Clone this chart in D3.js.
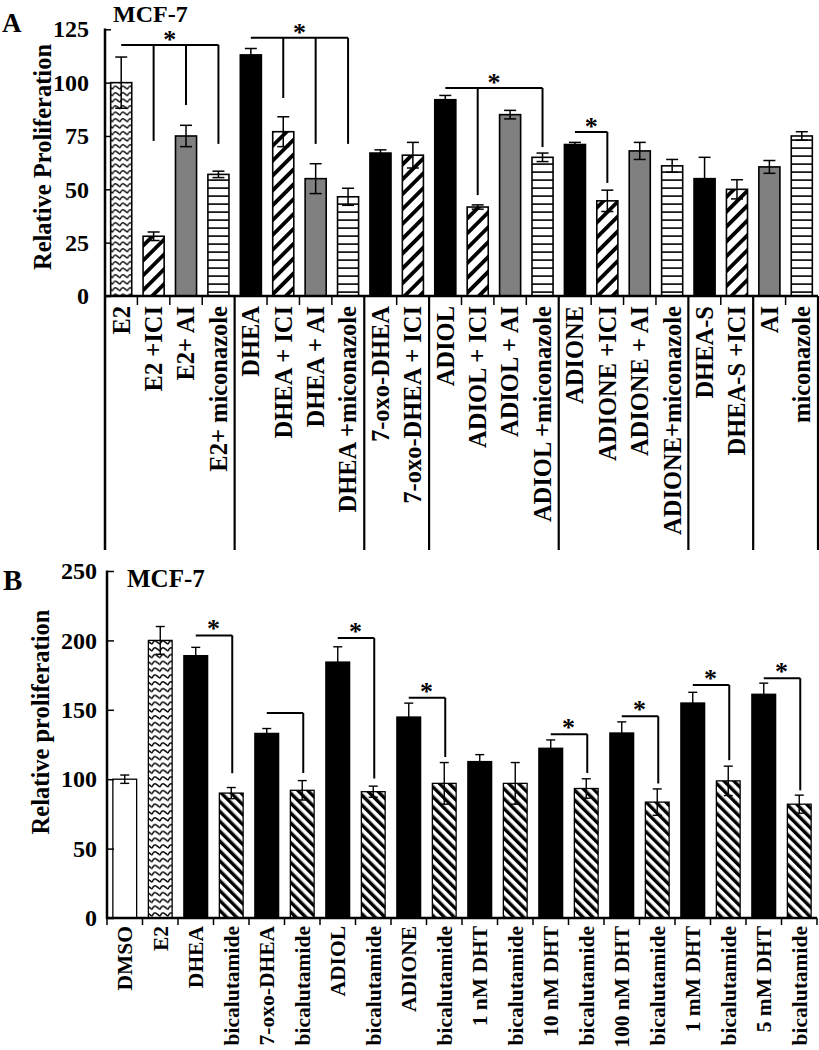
<!DOCTYPE html>
<html><head><meta charset="utf-8">
<script src="https://cdn.jsdelivr.net/npm/d3@7"></script>
<style>
html,body{margin:0;padding:0;background:#fff;}
svg text{font-family:"Liberation Serif","Times New Roman",serif;font-weight:bold;fill:#000;}
</style></head>
<body>
<svg id="chart" width="819" height="1050"></svg>
<script>
// ---------- Panel A data ----------
const catsA = ["E2","E2 +ICI","E2+ AI","E2+ miconazole","DHEA","DHEA + ICI","DHEA + AI","DHEA +miconazole",
  "7-oxo-DHEA","7-oxo-DHEA + ICI","ADIOL","ADIOL + ICI","ADIOL + AI","ADIOL +miconazole",
  "ADIONE","ADIONE +ICI","ADIONE + AI","ADIONE+miconazole","DHEA-S","DHEA-S +ICI","AI","miconazole"];
const valsA = [100,28,75,57,113,77,55,46.5,67,66,92,41.7,85,65,71,44.6,68,61,55,50,60.5,75];
const errA  = [12,2,5,1.5,3,7,7,4,1.5,6,2,1,2,2,1,5,4,3,10,4.5,3,2];
const fillA = ["wave","hatchR","gray","horiz","black","hatchR","gray","horiz","black","hatchR",
  "black","hatchR","gray","horiz","black","hatchR","gray","horiz","black","hatchR","gray","horiz"];
const groupEndsA = [4,8,10,14,18,20,22];
const ticksA = [0,25,50,75,100,125];
// brackets: start bar, target bars, line level, drop levels
const bracketsA = [
  {from:0, to:[1,2,3], level:117.7, drops:[72.7,89.5,71.3]},
  {from:4, to:[5,6,7], level:121, drops:[92.8,71.3,71.3]},
  {from:10, to:[11,13], level:97.5, drops:[47.3,69.8]},
  {from:14, to:[15], level:76.9, drops:[53]}
];

// ---------- Panel B data ----------
const catsB = ["DMSO","E2","DHEA","bicalutamide","7-oxo-DHEA","bicalutamide","ADIOL","bicalutamide",
  "ADIONE","bicalutamide","1 nM DHT","bicalutamide","10 nM DHT","bicalutamide","100 nM DHT","bicalutamide",
  "1 mM DHT","bicalutamide","5 mM DHT","bicalutamide"];
const valsB = [100,200,189,90,133,92,184.4,91,144.8,97,112.7,97,122.3,93.3,133.3,83.5,154.9,98.8,161.2,82];
const errB  = [3,10,6,4,3.5,7,11,4,10,15,5,15,6,7,8,9.5,7.7,10.6,8,6.5];
const fillB = ["white","wave","black","hatchL","black","hatchL","black","hatchL","black","hatchL",
  "black","hatchL","black","hatchL","black","hatchL","black","hatchL","black","hatchL"];
const ticksB = [0,50,100,150,200,250];
const bracketsB = [
  {from:2, to:[3], level:203.6, drops:[104.3], star:true},
  {from:4, to:[5], level:147.7, drops:[104.5], star:false},
  {from:6, to:[7], level:201.7, drops:[100.5], star:true},
  {from:8, to:[9], level:158.7, drops:[116], star:true},
  {from:12, to:[13], level:132.4, drops:[104.5], star:true},
  {from:14, to:[15], level:145.3, drops:[96.9], star:true},
  {from:16, to:[17], level:167.9, drops:[113.7], star:true},
  {from:18, to:[19], level:172.7, drops:[92], star:true}
];

const svg = d3.select("#chart");
const defs = svg.append("defs");

// patterns
function lineHatch(id, angle, size, width){
  const p = defs.append("pattern").attr("id",id).attr("patternUnits","userSpaceOnUse")
    .attr("width",size).attr("height",size).attr("patternTransform",`rotate(${angle})`);
  p.append("rect").attr("width",size).attr("height",size).attr("fill","#fff");
  p.append("rect").attr("x",0).attr("y",0).attr("width",width).attr("height",size).attr("fill","#000");
}
lineHatch("hatchR", 45, 10.5, 3.8);
lineHatch("hatchL", -45, 7, 3.4);
{
  const p = defs.append("pattern").attr("id","horiz").attr("patternUnits","userSpaceOnUse")
    .attr("width",8).attr("height",8);
  p.append("rect").attr("width",8).attr("height",8).attr("fill","#fff");
  p.append("rect").attr("x",0).attr("y",3.3).attr("width",8).attr("height",1.6).attr("fill","#000");
}
function wave(id, w, h, sw){
  const p = defs.append("pattern").attr("id",id).attr("patternUnits","userSpaceOnUse")
    .attr("width",w).attr("height",h);
  p.append("rect").attr("width",w).attr("height",h).attr("fill","#fff");
  p.append("path").attr("d",`M0,${h*0.75} Q${w*0.25},${h*0.1} ${w*0.5},${h*0.3} Q${w*0.75},${h*0.5} ${w},${h*0.75}`)
    .attr("fill","none").attr("stroke","#000").attr("stroke-width",sw);
}
wave("waveA", 7.5, 6.5, 1.3);
wave("waveB", 8, 6.8, 1.4);

function fillOf(f, panel){
  if (f==="black") return "#000";
  if (f==="gray") return "#808080";
  if (f==="white") return "#fff";
  if (f==="wave") return panel==="A" ? "url(#waveA)" : "url(#waveB)";
  return `url(#${f})`;
}

// ================= PANEL A =================
const xA = d3.scaleBand().domain(d3.range(catsA.length)).range([105,818]).paddingInner(0.35).paddingOuter(0.175);
const yA = d3.scaleLinear().domain([0,125]).range([296,29.3]);
const gA = svg.append("g");
const edgeA = i => xA.range()[0] + i*xA.step();

// bars
gA.selectAll("rect.bar").data(valsA).join("rect")
  .attr("x",(d,i)=>xA(i)).attr("width",xA.bandwidth())
  .attr("y",d=>yA(d)).attr("height",d=>yA(0)-yA(d))
  .attr("fill",(d,i)=>fillOf(fillA[i],"A")).attr("stroke","#000").attr("stroke-width",1.6);
// error bars
const ebA = gA.selectAll("g.eb").data(valsA).join("g");
ebA.append("line").attr("x1",(d,i)=>xA(i)+xA.bandwidth()/2).attr("x2",(d,i)=>xA(i)+xA.bandwidth()/2)
  .attr("y1",(d,i)=>yA(d+errA[i])).attr("y2",(d,i)=>yA(d-errA[i])).attr("stroke","#000").attr("stroke-width",1.5);
[1,-1].forEach(s=>{
  ebA.append("line").attr("x1",(d,i)=>xA(i)+xA.bandwidth()/2-6).attr("x2",(d,i)=>xA(i)+xA.bandwidth()/2+6)
    .attr("y1",(d,i)=>yA(d+s*errA[i])).attr("y2",(d,i)=>yA(d+s*errA[i])).attr("stroke","#000").attr("stroke-width",1.5);
});

// y axis
const axA = d3.axisLeft(yA).tickValues(ticksA).tickSize(-6).tickSizeOuter(0).tickPadding(16);
const gyA = gA.append("g").attr("transform","translate(105,0)").call(axA);
gyA.select(".domain").remove();
gyA.selectAll(".tick line").attr("stroke","#000").attr("stroke-width",1.5);
gyA.selectAll(".tick text").attr("font-size",24).attr("font-family",null);
gA.append("line").attr("x1",105).attr("x2",105).attr("y1",28.5).attr("y2",550).attr("stroke","#000").attr("stroke-width",2.5);
// x axis line
gA.append("line").attr("x1",104).attr("x2",818).attr("y1",296).attr("y2",296).attr("stroke","#000").attr("stroke-width",2.5);
// separators
d3.range(1,catsA.length+1).forEach(i=>{
  const long = groupEndsA.includes(i);
  gA.append("line").attr("x1",edgeA(i)).attr("x2",edgeA(i)).attr("y1",296).attr("y2",long?550:305)
    .attr("stroke","#000").attr("stroke-width",long?2.2:1.5);
});
// x labels
const xaxA = d3.axisBottom(xA).tickSize(0).tickFormat(i=>catsA[i]);
const gxA = gA.append("g").attr("transform","translate(0,296)").call(xaxA);
gxA.select(".domain").remove();
gxA.selectAll(".tick text").attr("font-size",24.5).attr("font-family",null)
  .attr("text-anchor","end").attr("transform","translate(0,10) rotate(-90)").attr("x",0).attr("y",0).attr("dy","0.34em");
// y label
gA.append("text").attr("transform","translate(51,157) rotate(-90)").attr("text-anchor","middle")
  .attr("font-size",24.5).text("Relative Proliferation");
gA.append("text").attr("x",113).attr("y",22).attr("font-size",24).text("MCF-7");
gA.append("text").attr("x",2).attr("y",32).attr("font-size",27).text("A");

// brackets A
const cA = i => xA(i)+xA.bandwidth()/2;
bracketsA.forEach(b=>{
  const last = b.to[b.to.length-1];
  gA.append("line").attr("x1",cA(b.from)).attr("x2",cA(last)).attr("y1",yA(b.level)).attr("y2",yA(b.level))
    .attr("stroke","#000").attr("stroke-width",2);
  b.to.forEach((t,k)=>{
    gA.append("line").attr("x1",cA(t)).attr("x2",cA(t)).attr("y1",yA(b.level)).attr("y2",yA(b.drops[k]))
      .attr("stroke","#000").attr("stroke-width",2);
  });
  gA.append("text").attr("x",(cA(b.from)+cA(last))/2).attr("y",yA(b.level)+3).attr("text-anchor","middle")
    .attr("font-size",26).text("*");
});

// ================= PANEL B =================
const xB = d3.scaleBand().domain(d3.range(catsB.length)).range([107,817]).paddingInner(0.33).paddingOuter(0.165);
const yB = d3.scaleLinear().domain([0,250]).range([918,571]);
const gB = svg.append("g");
const edgeB = i => xB.range()[0] + i*xB.step();

gB.selectAll("rect.bar").data(valsB).join("rect")
  .attr("x",(d,i)=>xB(i)).attr("width",xB.bandwidth())
  .attr("y",d=>yB(d)).attr("height",d=>yB(0)-yB(d))
  .attr("fill",(d,i)=>fillOf(fillB[i],"B")).attr("stroke","#000").attr("stroke-width",1.3);
const ebB = gB.selectAll("g.eb").data(valsB).join("g");
ebB.append("line").attr("x1",(d,i)=>xB(i)+xB.bandwidth()/2).attr("x2",(d,i)=>xB(i)+xB.bandwidth()/2)
  .attr("y1",(d,i)=>yB(d+errB[i])).attr("y2",(d,i)=>yB(d-errB[i])).attr("stroke","#000").attr("stroke-width",1.4);
[1,-1].forEach(s=>{
  ebB.append("line").attr("x1",(d,i)=>xB(i)+xB.bandwidth()/2-4.5).attr("x2",(d,i)=>xB(i)+xB.bandwidth()/2+4.5)
    .attr("y1",(d,i)=>yB(d+s*errB[i])).attr("y2",(d,i)=>yB(d+s*errB[i])).attr("stroke","#000").attr("stroke-width",1.4);
});

const axB = d3.axisLeft(yB).tickValues(ticksB).tickSize(-7).tickSizeOuter(0).tickPadding(10);
const gyB = gB.append("g").attr("transform","translate(107,0)").call(axB);
gyB.select(".domain").remove();
gyB.selectAll(".tick line").attr("stroke","#000").attr("stroke-width",1.5);
gyB.selectAll(".tick text").attr("font-size",24).attr("font-family",null);
gB.append("line").attr("x1",107).attr("x2",107).attr("y1",570.5).attr("y2",919).attr("stroke","#000").attr("stroke-width",2.5);
gB.append("line").attr("x1",106).attr("x2",817).attr("y1",918).attr("y2",918).attr("stroke","#000").attr("stroke-width",2.5);
d3.range(0,catsB.length+1).forEach(i=>{
  gB.append("line").attr("x1",edgeB(i)).attr("x2",edgeB(i)).attr("y1",918).attr("y2",925)
    .attr("stroke","#000").attr("stroke-width",1.5);
});
const xaxB = d3.axisBottom(xB).tickSize(0).tickFormat(i=>catsB[i]);
const gxB = gB.append("g").attr("transform","translate(0,918)").call(xaxB);
gxB.select(".domain").remove();
gxB.selectAll(".tick text").attr("font-size",21.5).attr("font-family",null)
  .attr("text-anchor","end").attr("transform","translate(0,8) rotate(-90)").attr("x",0).attr("y",0).attr("dy","0.34em");
gB.append("text").attr("transform","translate(49,722) rotate(-90)").attr("text-anchor","middle")
  .attr("font-size",24.5).text("Relative proliferation");
gB.append("text").attr("x",127).attr("y",587).attr("font-size",25).text("MCF-7");
gB.append("text").attr("x",3).attr("y",590).attr("font-size",29).text("B");

const cB = i => xB(i)+xB.bandwidth()/2;
bracketsB.forEach(b=>{
  const last = b.to[b.to.length-1];
  gB.append("line").attr("x1",cB(b.from)).attr("x2",cB(last)+1).attr("y1",yB(b.level)).attr("y2",yB(b.level))
    .attr("stroke","#000").attr("stroke-width",2);
  b.to.forEach((t,k)=>{
    gB.append("line").attr("x1",cB(t)+1).attr("x2",cB(t)+1).attr("y1",yB(b.level)).attr("y2",yB(b.drops[k]))
      .attr("stroke","#000").attr("stroke-width",2);
  });
  if (b.star) gB.append("text").attr("x",(cB(b.from)+cB(last))/2).attr("y",yB(b.level)+2).attr("text-anchor","middle")
    .attr("font-size",26).text("*");
});
</script>
</body></html>
